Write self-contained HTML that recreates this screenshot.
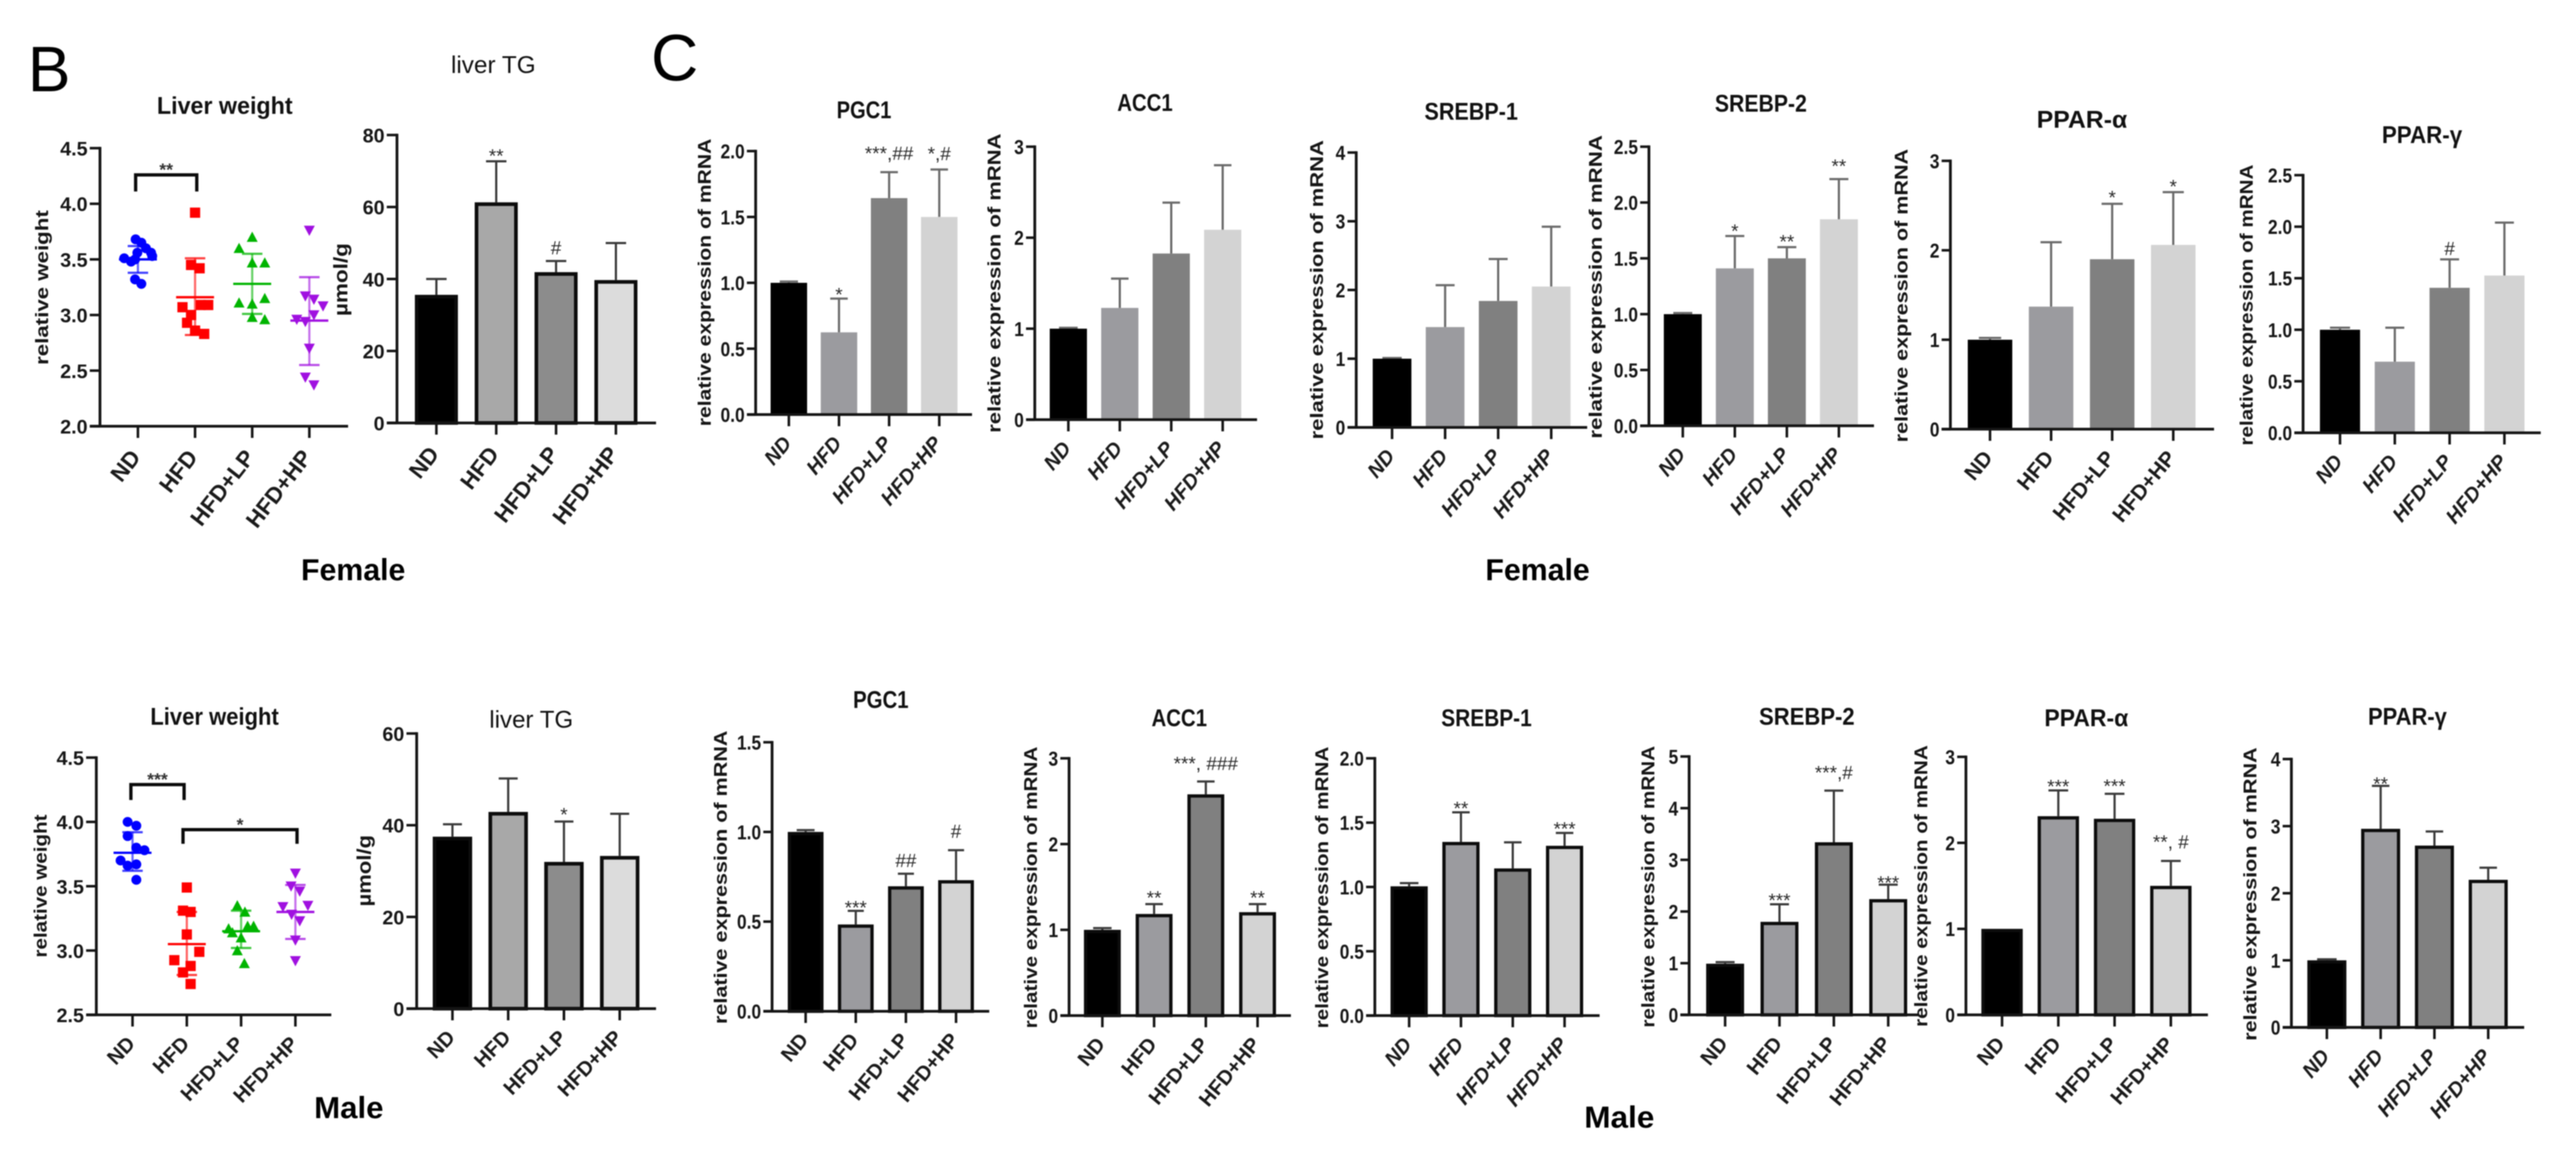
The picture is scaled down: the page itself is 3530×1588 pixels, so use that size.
<!DOCTYPE html>
<html lang="en">
<head>
<meta charset="utf-8">
<title>Liver weight, liver TG and mRNA expression</title>
<style>
html,body{margin:0;padding:0;background:#fff;}
svg{display:block;filter:blur(0.7px);font-family:"Liberation Sans",Arial,sans-serif;}
.pt{font-weight:bold;font-size:33px;fill:#111;text-anchor:middle;}
.yt{font-weight:bold;font-size:25px;fill:#151515;text-anchor:middle;}
.gl{font-weight:bold;font-size:42px;fill:#000;text-anchor:middle;}
</style>
</head>
<body>
<svg id="figure" xmlns="http://www.w3.org/2000/svg" width="3530" height="1588" viewBox="0 0 3530 1588">
<rect x="0" y="0" width="3530" height="1588" fill="#fff"/>
<text x="38" y="125" font-size="88" fill="#000">B</text>
<text x="892" y="110" font-size="90" fill="#000">C</text>
<text class="gl" x="484" y="795" textLength="143" lengthAdjust="spacingAndGlyphs">Female</text>
<text class="gl" x="2107" y="795" textLength="143" lengthAdjust="spacingAndGlyphs">Female</text>
<text class="gl" x="478" y="1532" textLength="95" lengthAdjust="spacingAndGlyphs">Male</text>
<text class="gl" x="2219" y="1545" textLength="96" lengthAdjust="spacingAndGlyphs">Male</text>

<text class="pt" x="308" y="156" textLength="186" lengthAdjust="spacingAndGlyphs">Liver weight</text>
<text class="pt" style="font-weight:normal" x="676" y="100" textLength="116" lengthAdjust="spacingAndGlyphs">liver TG</text>
<text class="pt" x="1184" y="162" textLength="75" lengthAdjust="spacingAndGlyphs">PGC1</text>
<text class="pt" x="1569" y="152" textLength="76" lengthAdjust="spacingAndGlyphs">ACC1</text>
<text class="pt" x="2016" y="164" textLength="128" lengthAdjust="spacingAndGlyphs">SREBP-1</text>
<text class="pt" x="2413" y="153" textLength="126" lengthAdjust="spacingAndGlyphs">SREBP-2</text>
<text class="pt" x="2853" y="175" textLength="124" lengthAdjust="spacingAndGlyphs">PPAR-α</text>
<text class="pt" x="3319" y="196" textLength="110" lengthAdjust="spacingAndGlyphs">PPAR-γ</text>
<text class="pt" x="294" y="993" textLength="176" lengthAdjust="spacingAndGlyphs">Liver weight</text>
<text class="pt" style="font-weight:normal" x="728" y="997" textLength="115" lengthAdjust="spacingAndGlyphs">liver TG</text>
<text class="pt" x="1207" y="970" textLength="76" lengthAdjust="spacingAndGlyphs">PGC1</text>
<text class="pt" x="1616" y="995" textLength="76" lengthAdjust="spacingAndGlyphs">ACC1</text>
<text class="pt" x="2037" y="995" textLength="124" lengthAdjust="spacingAndGlyphs">SREBP-1</text>
<text class="pt" x="2476" y="993" textLength="131" lengthAdjust="spacingAndGlyphs">SREBP-2</text>
<text class="pt" x="2859" y="995" textLength="115" lengthAdjust="spacingAndGlyphs">PPAR-α</text>
<text class="pt" x="3299" y="993" textLength="108" lengthAdjust="spacingAndGlyphs">PPAR-γ</text>

<text class="yt" transform="translate(66 394) rotate(-90)" textLength="212" lengthAdjust="spacingAndGlyphs">relative weight</text>
<text class="yt" style="font-size:27px" transform="translate(476 383) rotate(-90)" textLength="100" lengthAdjust="spacingAndGlyphs">µmol/g</text>
<text class="yt" transform="translate(974 387) rotate(-90)" textLength="394" lengthAdjust="spacingAndGlyphs">relative expression of mRNA</text>
<text class="yt" transform="translate(1371 388) rotate(-90)" textLength="410" lengthAdjust="spacingAndGlyphs">relative expression of mRNA</text>
<text class="yt" transform="translate(1813 397) rotate(-90)" textLength="410" lengthAdjust="spacingAndGlyphs">relative expression of mRNA</text>
<text class="yt" transform="translate(2195 393) rotate(-90)" textLength="416" lengthAdjust="spacingAndGlyphs">relative expression of mRNA</text>
<text class="yt" transform="translate(2614 405) rotate(-90)" textLength="402" lengthAdjust="spacingAndGlyphs">relative expression of mRNA</text>
<text class="yt" transform="translate(3087 418) rotate(-90)" textLength="385" lengthAdjust="spacingAndGlyphs">relative expression of mRNA</text>
<text class="yt" transform="translate(64 1214) rotate(-90)" textLength="196" lengthAdjust="spacingAndGlyphs">relative weight</text>
<text class="yt" style="font-size:27px" transform="translate(508 1193) rotate(-90)" textLength="98" lengthAdjust="spacingAndGlyphs">µmol/g</text>
<text class="yt" transform="translate(996 1202) rotate(-90)" textLength="402" lengthAdjust="spacingAndGlyphs">relative expression of mRNA</text>
<text class="yt" transform="translate(1421 1216) rotate(-90)" textLength="386" lengthAdjust="spacingAndGlyphs">relative expression of mRNA</text>
<text class="yt" transform="translate(1820 1216) rotate(-90)" textLength="386" lengthAdjust="spacingAndGlyphs">relative expression of mRNA</text>
<text class="yt" transform="translate(2267 1215) rotate(-90)" textLength="386" lengthAdjust="spacingAndGlyphs">relative expression of mRNA</text>
<text class="yt" transform="translate(2641 1214) rotate(-90)" textLength="386" lengthAdjust="spacingAndGlyphs">relative expression of mRNA</text>
<text class="yt" transform="translate(3092 1225) rotate(-90)" textLength="402" lengthAdjust="spacingAndGlyphs">relative expression of mRNA</text>
</svg>

<script>
/* ---------- data ---------- */
const categories = ['ND', 'HFD', 'HFD+LP', 'HFD+HP'];

/* Female liver weight scatter */
const fLwTicks = ['2.0', '2.5', '3.0', '3.5', '4.0', '4.5'];
const fLwNdValues = [3.68, 3.65, 3.60, 3.56, 3.53, 3.56, 3.51, 3.48, 3.50, 3.32, 3.28];
const fLwNdJitter = [-0.04, 0.06, 0.14, 0.23, 0.25, -0.01, -0.24, -0.12, -0.05, -0.05, 0.06];
const fLwHfdValues = [3.92, 3.45, 3.42, 3.07, 3.09, 3.09, 3.0, 2.93, 2.86, 2.83];
const fLwHfdJitter = [0, -0.07, 0.08, -0.22, 0.10, 0.23, -0.07, -0.14, 0, 0.16];
const fLwLpValues = [3.70, 3.60, 3.47, 3.47, 3.11, 3.10, 3.15, 2.98, 2.96];
const fLwLpJitter = [0, -0.23, 0, 0.22, -0.23, 0, 0.22, 0, 0.22];
const fLwHpValues = [3.76, 3.17, 3.14, 3.08, 3.0, 2.96, 2.94, 2.70, 2.44, 2.37];
const fLwHpJitter = [0, -0.07, 0.08, 0.24, 0.08, -0.22, -0.07, 0, -0.07, 0.08];
const fLwMeans = [3.50, 3.16, 3.28, 2.95];
const fLwSdHigh = [3.62, 3.51, 3.55, 3.34];
const fLwSdLow = [3.38, 2.82, 3.01, 2.55];
const fLwBrackets = [{ from: -0.04, to: 1.03, top: 4.26, foot: 4.11, label: '**' }];

/* Male liver weight scatter */
const mLwTicks = ['2.5', '3.0', '3.5', '4.0', '4.5'];
const mLwNdValues = [4.0, 3.97, 3.89, 3.80, 3.78, 3.70, 3.66, 3.67, 3.55];
const mLwNdJitter = [-0.09, 0.07, -0.09, 0.07, 0.22, -0.22, -0.09, 0.07, 0.07];
const mLwHfdValues = [3.49, 3.31, 3.30, 3.125, 2.99, 2.925, 2.88, 2.83, 2.74];
const mLwHfdJitter = [0, -0.07, 0.07, 0, 0.23, -0.23, 0.07, -0.07, 0.07];
const mLwLpValues = [3.35, 3.30, 3.17, 3.19, 3.19, 3.14, 3.10, 3.0, 2.90];
const mLwLpJitter = [-0.07, 0.07, -0.23, 0.12, 0.23, -0.16, 0, -0.07, 0.06];
const mLwHpValues = [3.60, 3.5, 3.46, 3.34, 3.35, 3.28, 3.23, 3.08, 2.92];
const mLwHpJitter = [0, -0.08, 0.08, -0.23, 0.23, -0.07, 0.08, 0, 0];
const mLwMeans = [3.76, 3.05, 3.15, 3.30];
const mLwSdHigh = [3.92, 3.30, 3.31, 3.51];
const mLwSdLow = [3.62, 2.81, 3.02, 3.09];
const mLwBrackets = [
  { from: -0.03, to: 0.95, top: 4.29, foot: 4.17, label: '***' },
  { from: 0.93, to: 3.03, top: 3.94, foot: 3.83, label: '*' }
];

/* Female bar panels */
const fTgTicks = ['0', '20', '40', '60', '80'];
const fTgMeans = [35.6, 61.3, 41.9, 39.7];
const fTgUpper = [40, 72.7, 45, 50];
const fTgNotes = ['', '**', '#', ''];

const fPgcTicks = ['0.0', '0.5', '1.0', '1.5', '2.0'];
const fPgcMeans = [1.0, 0.624, 1.643, 1.50];
const fPgcUpper = [1.01, 0.88, 1.84, 1.86];
const fPgcNotes = ['', '*', '***,##', '*,#'];

const fAccTicks = ['0', '1', '2', '3'];
const fAccMeans = [1.0, 1.228, 1.826, 2.087];
const fAccUpper = [1.01, 1.55, 2.385, 2.796];
const fAccNotes = ['', '', '', ''];

const fS1Ticks = ['0', '1', '2', '3', '4'];
const fS1Means = [1.0, 1.46, 1.84, 2.05];
const fS1Upper = [1.01, 2.07, 2.45, 2.92];
const fS1Notes = ['', '', '', ''];

const fS2Ticks = ['0.0', '0.5', '1.0', '1.5', '2.0', '2.5'];
const fS2Means = [1.0, 1.41, 1.50, 1.85];
const fS2Upper = [1.01, 1.70, 1.60, 2.21];
const fS2Notes = ['', '*', '**', '**'];

const fPaTicks = ['0', '1', '2', '3'];
const fPaMeans = [1.0, 1.37, 1.90, 2.06];
const fPaUpper = [1.02, 2.09, 2.52, 2.65];
const fPaNotes = ['', '', '*', '*'];

const fPgTicks = ['0.0', '0.5', '1.0', '1.5', '2.0', '2.5'];
const fPgMeans = [1.0, 0.69, 1.407, 1.526];
const fPgUpper = [1.02, 1.02, 1.683, 2.04];
const fPgNotes = ['', '', '#', ''];

/* Male bar panels */
const mTgTicks = ['0', '20', '40', '60'];
const mTgMeans = [37.5, 42.9, 32, 33.3];
const mTgUpper = [40.2, 50.2, 40.8, 42.5];
const mTgNotes = ['', '', '*', ''];

const mPgcTicks = ['0.0', '0.5', '1.0', '1.5'];
const mPgcMeans = [1.0, 0.484, 0.697, 0.731];
const mPgcUpper = [1.01, 0.56, 0.767, 0.898];
const mPgcNotes = ['', '***', '##', '#'];

const mAccTicks = ['0', '1', '2', '3'];
const mAccMeans = [1.0, 1.185, 2.58, 1.206];
const mAccUpper = [1.02, 1.30, 2.73, 1.30];
const mAccNotes = ['', '**', '***, ###', '**'];

const mS1Ticks = ['0.0', '0.5', '1.0', '1.5', '2.0'];
const mS1Means = [1.005, 1.35, 1.144, 1.32];
const mS1Upper = [1.03, 1.58, 1.347, 1.42];
const mS1Notes = ['', '**', '', '***'];

const mS2Ticks = ['0', '1', '2', '3', '4', '5'];
const mS2Means = [0.99, 1.80, 3.34, 2.24];
const mS2Upper = [1.02, 2.14, 4.34, 2.52];
const mS2Notes = ['', '***', '***,#', '***'];

const mPaTicks = ['0', '1', '2', '3'];
const mPaMeans = [1.0, 2.31, 2.28, 1.5];
const mPaUpper = [1.0, 2.61, 2.57, 1.79];
const mPaNotes = ['', '***', '***', '**, #'];

const mPgTicks = ['0', '1', '2', '3', '4'];
const mPgMeans = [1.0, 2.96, 2.71, 2.2];
const mPgUpper = [1.015, 3.6, 2.92, 2.38];
const mPgNotes = ['', '**', '', ''];

/* ---------- styles ---------- */
const barFills = ['#000000', '#9b9b9f', '#808080', '#d3d3d3'];
const tgFills = ['#000000', '#a8a8a8', '#8c8c8c', '#dcdcdc'];
const scatterColors = ['#0000ff', '#ff0000', '#00b400', '#a010e0'];

/* ---------- panel frames ---------- */
const B_TEXT = { fs: 27, squeeze: 1, tick: 14 };
const C_TEXT = { fs: 28, squeeze: 0.85, tick: 12 };

const barPanels = [
  { id: 'female-liver-tg', ax: 544, yTop: 185, y0: 579.5, first: 598, step: 82, end: 899, barW: 59, border: 5, cap: 28, ticks: fTgTicks, means: fTgMeans, upper: fTgUpper, notes: fTgNotes, lifts: [0, 14, 18, 0], fills: tgFills, text: B_TEXT, lab: { a: -52, fs: 31, it: false, dx: 5, dy: 43 } },
  { id: 'female-pgc1', ax: 1035.5, yTop: 207, y0: 568, first: 1081, step: 68.7, end: 1332, barW: 50, border: 0, cap: 24, ticks: fPgcTicks, means: fPgcMeans, upper: fPgcUpper, notes: fPgcNotes, lifts: [0, 12, 26, 22], fills: barFills, text: C_TEXT, lab: { a: -50, fs: 28, it: true, dx: 5, dy: 40 } },
  { id: 'female-acc1', ax: 1418, yTop: 201, y0: 575, first: 1464, step: 70.5, end: 1722.6, barW: 51, border: 0, cap: 24, ticks: fAccTicks, means: fAccMeans, upper: fAccUpper, notes: fAccNotes, lifts: [0, 0, 0, 0], fills: barFills, text: C_TEXT, lab: { a: -50, fs: 28, it: true, dx: 5, dy: 40 } },
  { id: 'female-srebp1', ax: 1858.5, yTop: 209, y0: 585.6, first: 1907.6, step: 72.7, end: 2175, barW: 53, border: 0, cap: 26, ticks: fS1Ticks, means: fS1Means, upper: fS1Upper, notes: fS1Notes, lifts: [0, 0, 0, 0], fills: barFills, text: C_TEXT, lab: { a: -50, fs: 28, it: true, dx: 5, dy: 40 } },
  { id: 'female-srebp2', ax: 2259.6, yTop: 201, y0: 583.4, first: 2306, step: 71.3, end: 2568, barW: 52, border: 0, cap: 26, ticks: fS2Ticks, means: fS2Means, upper: fS2Upper, notes: fS2Notes, lifts: [0, 13, 14, 24], fills: barFills, text: C_TEXT, lab: { a: -50, fs: 28, it: true, dx: 5, dy: 40 } },
  { id: 'female-ppar-alpha', ax: 2672.7, yTop: 220.4, y0: 588, first: 2727, step: 83.7, end: 3034, barW: 61, border: 0, cap: 29, ticks: fPaTicks, means: fPaMeans, upper: fPaUpper, notes: fPaNotes, lifts: [0, 0, 15, 14], fills: barFills, text: C_TEXT, lab: { a: -50, fs: 29, it: false, dx: 5, dy: 40 } },
  { id: 'female-ppar-gamma', ax: 3156, yTop: 240, y0: 593, first: 3206.6, step: 75.1, end: 3481.7, barW: 55, border: 0, cap: 26, ticks: fPgTicks, means: fPgMeans, upper: fPgUpper, notes: fPgNotes, lifts: [0, 0, 15, 0], fills: barFills, text: C_TEXT, lab: { a: -50, fs: 28, it: true, dx: 5, dy: 40 } },
  { id: 'male-liver-tg', ax: 571, yTop: 1005, y0: 1382, first: 620, step: 76.4, end: 899, barW: 54, border: 5, cap: 26, ticks: mTgTicks, means: mTgMeans, upper: mTgUpper, notes: mTgNotes, lifts: [0, 0, 16, 0], fills: tgFills, text: B_TEXT, lab: { a: -46, fs: 28, it: false, dx: 5, dy: 41 } },
  { id: 'male-pgc1', ax: 1058, yTop: 1017, y0: 1385.6, first: 1104, step: 68.7, end: 1355.6, barW: 49, border: 4.5, cap: 22, ticks: mPgcTicks, means: mPgcMeans, upper: mPgcUpper, notes: mPgcNotes, lifts: [0, 11, 18, 26], fills: barFills, text: C_TEXT, lab: { a: -50, fs: 28, it: false, dx: 5, dy: 40 } },
  { id: 'male-acc1', ax: 1465, yTop: 1039, y0: 1391.5, first: 1510.6, step: 70.9, end: 1769, barW: 50.5, border: 4.5, cap: 24, ticks: mAccTicks, means: mAccMeans, upper: mAccUpper, notes: mAccNotes, lifts: [0, 15, 25, 15], fills: barFills, text: C_TEXT, lab: { a: -50, fs: 28, it: false, dx: 5, dy: 40 } },
  { id: 'male-srebp1', ax: 1884, yTop: 1039, y0: 1391.5, first: 1931, step: 71, end: 2192, barW: 51, border: 4.5, cap: 24, ticks: mS1Ticks, means: mS1Means, upper: mS1Upper, notes: mS1Notes, lifts: [0, 12, 0, 12], fills: barFills, text: C_TEXT, lab: { a: -50, fs: 28, it: true, dx: 5, dy: 40 } },
  { id: 'male-srebp2', ax: 2314.7, yTop: 1036.5, y0: 1390.5, first: 2364, step: 74.5, end: 2630, barW: 52, border: 4.5, cap: 26, ticks: mS2Ticks, means: mS2Means, upper: mS2Upper, notes: mS2Notes, lifts: [0, 12, 25, 9], fills: barFills, text: C_TEXT, lab: { a: -50, fs: 28, it: false, dx: 5, dy: 40 } },
  { id: 'male-ppar-alpha', ax: 2694, yTop: 1037, y0: 1390.5, first: 2743.5, step: 77.1, end: 3025.6, barW: 56.7, border: 4.5, cap: 27, ticks: mPaTicks, means: mPaMeans, upper: mPaUpper, notes: mPaNotes, lifts: [0, 12, 17, 26], fills: barFills, text: C_TEXT, lab: { a: -48, fs: 28, it: false, dx: 5, dy: 41 } },
  { id: 'male-ppar-gamma', ax: 3140, yTop: 1040, y0: 1407.7, first: 3188.6, step: 73.7, end: 3459, barW: 53.5, border: 4.5, cap: 24, ticks: mPgTicks, means: mPgMeans, upper: mPgUpper, notes: mPgNotes, lifts: [0, 9, 0, 0], fills: barFills, text: C_TEXT, lab: { a: -50, fs: 28, it: true, dx: 5, dy: 40 } }
];

const scatterPanels = [
  { id: 'female-liver-weight', ax: 137, yTop: 203, y0: 584, first: 189, step: 78.3, end: 477, ticks: fLwTicks, values: [fLwNdValues, fLwHfdValues, fLwLpValues, fLwHpValues], jitter: [fLwNdJitter, fLwHfdJitter, fLwLpJitter, fLwHpJitter], means: fLwMeans, sdHigh: fLwSdHigh, sdLow: fLwSdLow, brackets: fLwBrackets, text: B_TEXT, lab: { a: -52, fs: 31, it: false, dx: 5, dy: 43 } },
  { id: 'male-liver-weight', ax: 132, yTop: 1038, y0: 1390.5, first: 181.6, step: 74.4, end: 454, ticks: mLwTicks, values: [mLwNdValues, mLwHfdValues, mLwLpValues, mLwHpValues], jitter: [mLwNdJitter, mLwHfdJitter, mLwLpJitter, mLwHpJitter], means: mLwMeans, sdHigh: mLwSdHigh, sdLow: mLwSdLow, brackets: mLwBrackets, text: B_TEXT, lab: { a: -46, fs: 28, it: false, dx: 5, dy: 41 } }
];

/* ---------- drawing ---------- */
const SVGNS = 'http://www.w3.org/2000/svg';
const figure = document.getElementById('figure');
const INK = '#141414';

function svgEl(tag, attrs, parent) {
  const el = document.createElementNS(SVGNS, tag);
  for (const k in attrs) el.setAttribute(k, attrs[k]);
  parent.appendChild(el);
  return el;
}

function yScale(p, v) {
  const lo = Number(p.ticks[0]);
  const hi = Number(p.ticks[p.ticks.length - 1]);
  return p.y0 - (v - lo) / (hi - lo) * (p.y0 - p.yTop);
}

function xScale(p, i) {
  return p.first + i * p.step;
}

function drawAxes(p, g) {
  const tl = p.text.tick;
  const yLine = svgEl('line', { x1: p.ax, x2: p.ax, y1: p.yTop - 1.75, y2: p.y0, stroke: INK, 'stroke-width': 3.8 }, g);
  
  
  const xLine = svgEl('line', { x1: p.ax - tl, x2: p.end, y1: p.y0, y2: p.y0, stroke: INK, 'stroke-width': 3.8 }, g);
  
  

  p.ticks.forEach(function (label) {
    const y = yScale(p, Number(label));
    const tick = svgEl('line', { x1: p.ax - tl, x2: p.ax, y1: y, y2: y, stroke: INK, 'stroke-width': 3.5 }, g);
    
    
    const fs = p.text.fs;
    const natural = fs * (0.556 * label.replace('.', '').length + (label.indexOf('.') >= 0 ? 0.278 : 0));
    const txt = svgEl('text', { x: p.ax - tl - 3, y: y + 10, 'text-anchor': 'end', 'font-size': fs, 'font-weight': 'bold', fill: '#161616', textLength: natural * p.text.squeeze, lengthAdjust: 'spacingAndGlyphs' }, g);
    txt.textContent = label;
    
    
  });

  categories.forEach(function (cat, i) {
    const x = xScale(p, i);
    const tick = svgEl('line', { x1: x, x2: x, y1: p.y0, y2: p.y0 + 16, stroke: INK, 'stroke-width': 3.5 }, g);
    
    
    const lx = x + p.lab.dx;
    const ly = p.y0 + p.lab.dy;
    const txt = svgEl('text', { x: lx, y: ly, transform: 'rotate(' + p.lab.a + ' ' + lx + ' ' + ly + ')', 'text-anchor': 'end', 'font-size': p.lab.fs, 'font-weight': 'bold', 'font-style': p.lab.it ? 'italic' : 'normal', fill: '#1a1a1a' }, g);
    txt.textContent = cat;
    
    
  });
}

function drawBarPanel(p) {
  const g = svgEl('g', {}, figure);
  
  

  categories.forEach(function (cat, i) {
    const x = xScale(p, i);
    const top = yScale(p, p.means[i]);
    const errTop = yScale(p, p.upper[i]);
    const errColor = p.border ? '#3a3a3a' : '#6a6a6a';

    if (p.upper[i] > p.means[i]) {
      const errLine = svgEl('line', { x1: x, x2: x, y1: top, y2: errTop, stroke: errColor, 'stroke-width': 3 }, g);
      
      
      const cap = i === 0 && p.upper[i] - p.means[i] < 0.05 * p.means[i] ? p.barW * 0.5 : p.cap;
      const errCap = svgEl('line', { x1: x - cap / 2, x2: x + cap / 2, y1: errTop, y2: errTop, stroke: errColor, 'stroke-width': 3 }, g);
      
      
    }

    const b = p.border;
    const bar = svgEl('rect', {
      x: x - p.barW / 2 + b / 2,
      y: top + b / 2,
      width: p.barW - b,
      height: Math.max(0, p.y0 - top - b / 2),
      fill: p.fills[i],
      stroke: b ? '#0c0c0c' : 'none',
      'stroke-width': b
    }, g);
    
    

    const note = p.notes[i];
    if (note) {
      const fs = 26;
      const stars = /^\*+$/.test(note);
      const cy = errTop - p.lifts[i];
      const ann = svgEl('text', { x: x, y: cy + (stars ? 0.59 : 0.35) * fs, 'text-anchor': 'middle', 'font-size': fs, fill: '#2a2a2a' }, g);
      ann.textContent = note;
      
      
    }
  });

  drawAxes(p, g);
}

function drawMarker(kind, cx, cy, color, g) {
  if (kind === 0) return svgEl('circle', { cx: cx, cy: cy, r: 6.8, fill: color }, g);
  if (kind === 1) return svgEl('rect', { x: cx - 7, y: cy - 7, width: 14, height: 14, fill: color }, g);
  if (kind === 2) return svgEl('polygon', { points: (cx - 7.5) + ',' + (cy + 6.5) + ' ' + (cx + 7.5) + ',' + (cy + 6.5) + ' ' + cx + ',' + (cy - 7.5), fill: color }, g);
  return svgEl('polygon', { points: (cx - 7.5) + ',' + (cy - 6.5) + ' ' + (cx + 7.5) + ',' + (cy - 6.5) + ' ' + cx + ',' + (cy + 7.5), fill: color }, g);
}

function drawScatterPanel(p) {
  const g = svgEl('g', {}, figure);
  
  

  categories.forEach(function (cat, i) {
    const x = xScale(p, i);
    const color = scatterColors[i];

    p.values[i].forEach(function (v, k) {
      const pt = drawMarker(i, x + p.jitter[i][k] * p.step, yScale(p, v), color, g);
      
      
    });

    const hi = yScale(p, p.sdHigh[i]);
    const lo = yScale(p, p.sdLow[i]);
    const mid = yScale(p, p.means[i]);
    const sd = svgEl('line', { x1: x, x2: x, y1: hi, y2: lo, stroke: color, 'stroke-width': 3, 'stroke-opacity': 0.6 }, g);
    
    
    const capHi = svgEl('line', { x1: x - 14, x2: x + 14, y1: hi, y2: hi, stroke: color, 'stroke-width': 3, 'stroke-opacity': 0.75 }, g);
    
    
    const capLo = svgEl('line', { x1: x - 14, x2: x + 14, y1: lo, y2: lo, stroke: color, 'stroke-width': 3, 'stroke-opacity': 0.75 }, g);
    
    
    const meanLine = svgEl('line', { x1: x - 26, x2: x + 26, y1: mid, y2: mid, stroke: color, 'stroke-width': 3.2 }, g);
    
    
  });

  p.brackets.forEach(function (b) {
    const x1 = xScale(p, b.from);
    const x2 = xScale(p, b.to);
    const yt = yScale(p, b.top);
    const yf = yScale(p, b.foot);
    const path = svgEl('path', { d: 'M' + x1 + ' ' + yf + 'V' + yt + 'H' + x2 + 'V' + yf, fill: 'none', stroke: '#0a0a0a', 'stroke-width': 4.5 }, g);
    
    
    const fs = 24;
    const star = svgEl('text', { x: (x1 + x2) / 2, y: yt - 13 + 0.59 * fs, 'text-anchor': 'middle', 'font-size': fs, 'font-weight': 'bold', fill: '#333' }, g);
    star.textContent = b.label;
    
    
  });

  drawAxes(p, g);
}

scatterPanels.forEach(drawScatterPanel);
barPanels.forEach(drawBarPanel);
</script>
</body>
</html>
